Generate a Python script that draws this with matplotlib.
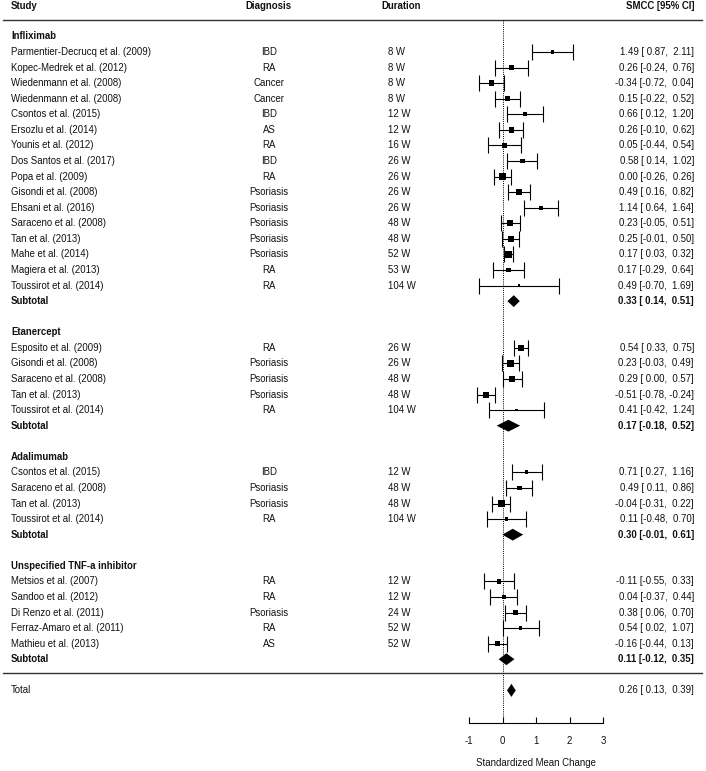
#!/usr/bin/env python
import matplotlib
matplotlib.use("Agg")
import matplotlib.pyplot as plt
from matplotlib.transforms import blended_transform_factory

plt.rcParams['font.family'] = ['Liberation Sans', 'DejaVu Sans']

# data
groups = ['Infliximab', 'Etanercept', 'Adalimumab', 'Unspecified TNF-a inhibitor']
group_sizes = [16, 5, 4, 5]

studies = ['Parmentier-Decrucq et al. (2009)', 'Kopec-Medrek et al. (2012)',
           'Wiedenmann et al. (2008)', 'Wiedenmann et al. (2008)', 'Csontos et al. (2015)',
           'Ersozlu et al. (2014)', 'Younis et al. (2012)', 'Dos Santos et al. (2017)',
           'Popa et al. (2009)', 'Gisondi et al. (2008)', 'Ehsani et al. (2016)',
           'Saraceno et al. (2008)', 'Tan et al. (2013)', 'Mahe et al. (2014)',
           'Magiera et al. (2013)', 'Toussirot et al. (2014)',
           'Esposito et al. (2009)', 'Gisondi et al. (2008)', 'Saraceno et al. (2008)',
           'Tan et al. (2013)', 'Toussirot et al. (2014)',
           'Csontos et al. (2015)', 'Saraceno et al. (2008)', 'Tan et al. (2013)',
           'Toussirot et al. (2014)',
           'Metsios et al. (2007)', 'Sandoo et al. (2012)', 'Di Renzo et al. (2011)',
           'Ferraz-Amaro et al. (2011)', 'Mathieu et al. (2013)']
diagnosis = ['IBD', 'RA', 'Cancer', 'Cancer', 'IBD', 'AS', 'RA', 'IBD', 'RA', 'Psoriasis',
             'Psoriasis', 'Psoriasis', 'Psoriasis', 'Psoriasis', 'RA', 'RA',
             'RA', 'Psoriasis', 'Psoriasis', 'Psoriasis', 'RA',
             'IBD', 'Psoriasis', 'Psoriasis', 'RA',
             'RA', 'RA', 'Psoriasis', 'RA', 'AS']
duration = ['8 W', '8 W', '8 W', '8 W', '12 W', '12 W', '16 W', '26 W', '26 W', '26 W',
            '26 W', '48 W', '48 W', '52 W', '53 W', '104 W',
            '26 W', '26 W', '48 W', '48 W', '104 W',
            '12 W', '48 W', '48 W', '104 W',
            '12 W', '12 W', '24 W', '52 W', '52 W']
smcc = [1.49, 0.26, -0.34, 0.15, 0.66, 0.26, 0.05, 0.58, 0.00, 0.49, 1.14, 0.23, 0.25, 0.17,
        0.17, 0.49,
        0.54, 0.23, 0.29, -0.51, 0.41,
        0.71, 0.49, -0.04, 0.11,
        -0.11, 0.04, 0.38, 0.54, -0.16]
ci_low = [0.87, -0.24, -0.72, -0.22, 0.12, -0.10, -0.44, 0.14, -0.26, 0.16, 0.64, -0.05, -0.01,
          0.03, -0.29, -0.70,
          0.33, -0.03, 0.00, -0.78, -0.42,
          0.27, 0.11, -0.31, -0.48,
          -0.55, -0.37, 0.06, 0.02, -0.44]
ci_high = [2.11, 0.76, 0.04, 0.52, 1.20, 0.62, 0.54, 1.02, 0.26, 0.82, 1.64, 0.51, 0.50, 0.32,
           0.64, 1.69,
           0.75, 0.49, 0.57, -0.24, 1.24,
           1.16, 0.86, 0.22, 0.70,
           0.33, 0.44, 0.70, 1.07, 0.13]
# relative study weights (drive the box size)
weights = [3.0, 4.0, 5.0, 5.0, 4.0, 5.0, 4.0, 4.5, 6.0, 6.0, 4.0, 5.5, 5.5, 7.0, 4.0, 2.0,
           6.0, 6.0, 5.5, 5.5, 2.5,
           3.5, 4.5, 6.0, 3.0,
           4.0, 4.5, 4.5, 3.0, 4.5]

sub_est = [0.33, 0.17, 0.30, 0.11]
sub_low = [0.14, -0.18, -0.01, -0.12]
sub_high = [0.51, 0.52, 0.61, 0.35]

total_est, total_low, total_high = 0.26, 0.13, 0.39

W, H = 706, 771
ZERO_PX, PX_UNIT = 502.7, 33.5
FIRST_PX, ROW_PX = 52.0, 15.57
FS = 6.9


def row_of(py):
    return 1 + (py - FIRST_PX) / ROW_PX


def fmt(e, lo, hi):
    return f"{e:.2f} [{lo:5.2f}, {hi:5.2f}]"


fig = plt.figure(figsize=(W / 100, H / 100), dpi=100)
ax = fig.add_axes([0, 0, 1, 1])
ax.set_xlim(-ZERO_PX / PX_UNIT, (W - ZERO_PX) / PX_UNIT)
ax.set_ylim(row_of(H), row_of(0))
tr = blended_transform_factory(fig.transFigure, ax.transData)
txt = dict(transform=tr, fontsize=FS, va='center', color='#111111')

# header
hy = row_of(6)
ax.text(11 / W, hy, 'Study', fontweight='bold', **txt)
ax.text(268 / W, hy, 'Diagnosis', fontweight='bold', ha='center', **txt)
ax.text(381 / W, hy, 'Duration', fontweight='bold', **txt)
ax.text(694 / W, hy, 'SMCC [95% CI]', fontweight='bold', ha='right', **txt)
ax.axhline(row_of(20), xmin=3 / W, xmax=702 / W, color='#333333', lw=1.0)

rows = []
sub_rows = []
r = 0
i = 0
for g, n in zip(groups, group_sizes):
    ax.text(11 / W, r, g, fontweight='bold', **txt)
    for k in range(n):
        r += 1
        rows.append(r)
        ax.text(11 / W, r, studies[i], **txt)
        ax.text(269 / W, r, diagnosis[i], ha='center', **txt)
        ax.text(388 / W, r, duration[i], **txt)
        ax.text(694 / W, r, fmt(smcc[i], ci_low[i], ci_high[i]), ha='right', **txt)
        i += 1
    r += 1
    sub_rows.append(r)
    r += 2

# subtotal labels and diamonds
for j, sr in enumerate(sub_rows):
    ax.text(11 / W, sr, 'Subtotal', fontweight='bold', **txt)
    ax.text(694 / W, sr, fmt(sub_est[j], sub_low[j], sub_high[j]),
            fontweight='bold', ha='right', **txt)
    ax.fill([sub_low[j], sub_est[j], sub_high[j], sub_est[j]],
            [sr, sr - 0.38, sr, sr + 0.38], color='black', lw=0)

# study CIs and boxes
ax.errorbar(smcc, rows, xerr=[[e - lo for e, lo in zip(smcc, ci_low)],
                              [hi - e for e, hi in zip(smcc, ci_high)]],
            fmt='none', ecolor='black', elinewidth=0.8, capsize=5.5, capthick=0.8)
ax.scatter(smcc, rows, marker='s', color='black', linewidths=0,
           s=[(w * 0.78) ** 2 for w in weights], zorder=3)

# total
line_row = row_of(673)
ax.axhline(line_row, xmin=3 / W, xmax=702 / W, color='#333333', lw=1.0)
tot_row = sub_rows[-1] + 2
ax.text(11 / W, tot_row, 'Total', **txt)
ax.text(694 / W, tot_row, fmt(total_est, total_low, total_high), ha='right', **txt)
ax.fill([total_low, total_est, total_high, total_est],
        [tot_row, tot_row - 0.42, tot_row, tot_row + 0.42], color='black', lw=0)

# reference line and axis
axis_row = row_of(723)
ax.plot([0, 0], [row_of(20), axis_row], ls=(0, (1, 1.2)), color='black', lw=0.7)

for s in ['top', 'left', 'right']:
    ax.spines[s].set_visible(False)
ax.spines['bottom'].set_position(('data', axis_row))
ax.spines['bottom'].set_bounds(-1, 3)
ax.spines['bottom'].set_linewidth(0.8)
ax.set_xticks([-1, 0, 1, 2, 3])
ax.set_xticklabels(['-1', '0', '1', '2', '3'])
ax.tick_params(axis='x', direction='in', length=4.5, width=0.8, labelsize=FS, pad=9,
               labelcolor='#111111')
ax.set_yticks([])
ax.set_xlabel('Standardized Mean Change', fontsize=FS, labelpad=9, color='#111111')
ax.xaxis.label.set_x((ZERO_PX + PX_UNIT) / W)
ax.patch.set_visible(False)

fig.savefig('out.png', dpi=100)
